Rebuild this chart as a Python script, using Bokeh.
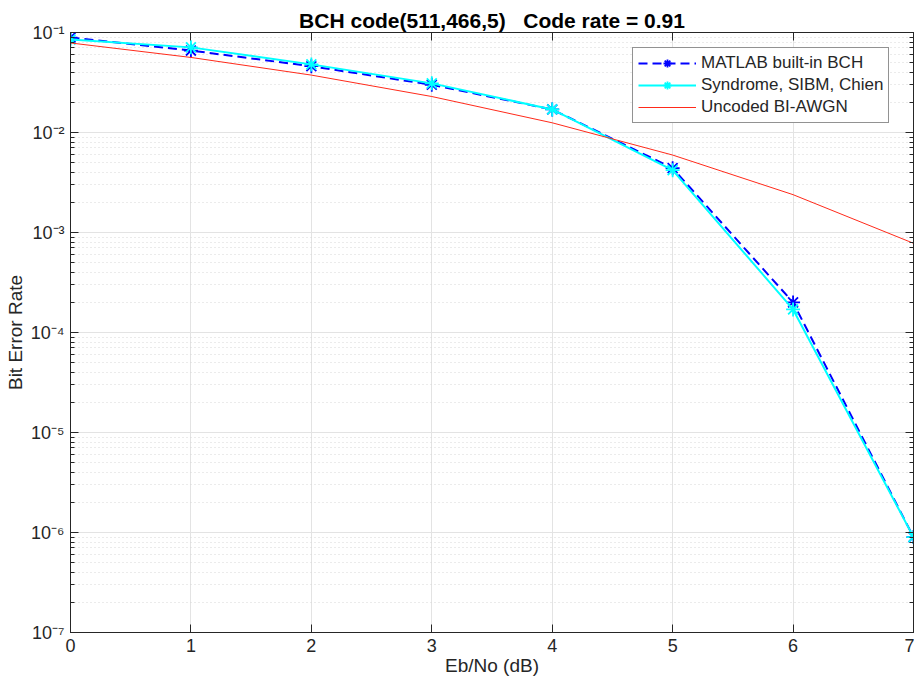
from bokeh.plotting import figure
from bokeh.models import (FixedTicker, CustomJSTickFormatter, Legend, LegendItem, Range1d, LogAxis, LinearAxis)
from bokeh.embed import file_html
from bokeh.resources import INLINE

# ---- data ----
ebno = [0, 1, 2, 3, 4, 5, 6, 7]
ber_matlab = [0.089, 0.066, 0.046, 0.030, 0.017, 0.0044, 2.0e-4, 9.0e-7]
ber_sibm = [0.085, 0.071, 0.048, 0.031, 0.017, 0.0042, 1.7e-4, 9.0e-7]
ber_uncoded = [0.0786, 0.0563, 0.0375, 0.0229, 0.0125, 0.00595, 0.00239, 0.00078]
y_decades = [-7, -6, -5, -4, -3, -2, -1]
x_ticks = [0, 1, 2, 3, 4, 5, 6, 7]
title_text = "BCH code(511,466,5)\u00a0\u00a0 Code rate = 0.91"
labels = ["MATLAB built-in BCH", "Syndrome, SIBM, Chien", "Uncoded BI-AWGN"]

FONT = "Liberation Sans"
TXT = "#262626"

p = figure(width=914, height=682, y_axis_type="log",
           x_range=Range1d(0, 7), y_range=Range1d(1e-7, 1e-1),
           output_backend="svg", toolbar_location=None,
           min_border_left=70, min_border_right=1, min_border_top=32,
           min_border_bottom=50)

p.title.text = title_text
p.title.align = "center"
p.title.text_font = FONT
p.title.text_font_size = "21px"
p.title.text_font_style = "bold"
p.title.text_color = "#000000"
p.title.standoff = 2

p.outline_line_color = TXT
p.outline_line_width = 1
p.outline_line_alpha = 1

xa = p.below[0]
ya = p.left[0]

major = [10.0 ** e for e in y_decades]
minor = [k * 10.0 ** e for e in y_decades[:-1] for k in range(2, 10)]
yticker = FixedTicker(ticks=major, minor_ticks=minor)
xticker = FixedTicker(ticks=x_ticks)
ya.ticker = yticker
ya.formatter = CustomJSTickFormatter(code="""
const sup = {'-':'\u207B','0':'\u2070','1':'\u00B9','2':'\u00B2','3':'\u00B3','4':'\u2074','5':'\u2075','6':'\u2076','7':'\u2077','8':'\u2078','9':'\u2079'};
const e = Math.round(Math.log10(tick));
return '10' + String(e).split('').map(c => sup[c]).join('');
""")
xa.ticker = xticker

blank = CustomJSTickFormatter(code="return '';")
right_ax = LogAxis(ticker=yticker, formatter=blank)
top_ax = LinearAxis(ticker=xticker, formatter=blank)
p.add_layout(right_ax, "right")
p.add_layout(top_ax, "above")

for ax in (xa, ya, right_ax, top_ax):
    ax.axis_line_color = TXT
    ax.major_tick_line_color = TXT
    ax.minor_tick_line_color = TXT
    ax.major_tick_in = 8
    ax.major_tick_out = 0
    ax.minor_tick_in = 4
    ax.minor_tick_out = 0
    ax.major_label_text_font = FONT
    ax.major_label_text_font_size = "18px"
    ax.major_label_text_color = TXT
    ax.axis_label_text_font = FONT
    ax.axis_label_text_font_size = "19px"
    ax.axis_label_text_font_style = "normal"
    ax.axis_label_text_color = TXT
for ax in (right_ax, top_ax):
    ax.major_label_standoff = 0
    ax.major_label_text_font_size = "1px"
top_ax.minor_tick_line_color = None
xa.minor_tick_line_color = None
xa.major_label_standoff = 6
xa.axis_label = "Eb/No (dB)"
xa.axis_label_standoff = 0
ya.axis_label = "Bit Error Rate"
ya.major_label_standoff = 6
ya.axis_label_standoff = 2

# grids
p.xgrid.grid_line_color = "#e3e3e3"
p.ygrid.grid_line_color = "#e3e3e3"
p.ygrid.minor_grid_line_color = "#d6d6d6"
p.ygrid.minor_grid_line_dash = "1 3"

# series
r1 = p.line(ebno, ber_matlab, line_color="#0000ff", line_width=2, line_dash="9 5")
s1 = p.scatter(ebno, ber_matlab, marker="asterisk", size=14, line_color="#0000ff", line_width=1.8)
r2 = p.line(ebno, ber_sibm, line_color="#00ffff", line_width=2)
s2 = p.scatter(ebno, ber_sibm, marker="asterisk", size=14, line_color="#00ffff", line_width=1.8)
r3 = p.line(ebno, ber_uncoded, line_color="#ff2a1a", line_width=1)

legend = Legend(items=[LegendItem(label=labels[0], renderers=[r1, s1]),
                       LegendItem(label=labels[1], renderers=[r2, s2]),
                       LegendItem(label=labels[2], renderers=[r3])],
                location=(562, 509))
legend.label_text_font = FONT
legend.label_text_font_size = "17px"
legend.label_text_color = TXT
legend.glyph_width = 58
legend.glyph_height = 20
legend.label_height = 20
legend.spacing = 2
legend.padding = 5
legend.margin = 0
legend.border_line_color = TXT
legend.border_line_width = 1
legend.background_fill_color = "white"
legend.background_fill_alpha = 1
legend.label_standoff = 5
p.add_layout(legend)

open("out.html", "w").write(file_html(p, INLINE))
